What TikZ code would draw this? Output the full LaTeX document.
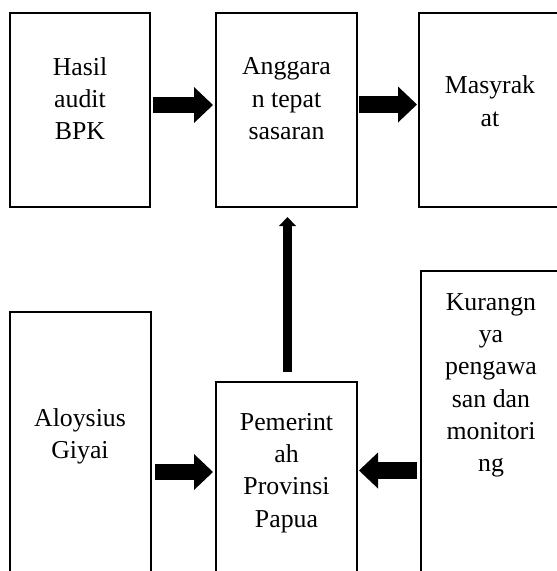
\documentclass[tikz,border=0pt]{standalone}
\usepackage{fontspec}
\setmainfont{Liberation Serif}
\usetikzlibrary{arrows.meta}
\begin{document}
\begin{tikzpicture}[x=1pt,y=-1pt,
  box/.style={draw, line width=1.8pt, inner sep=0pt, outer sep=0pt, anchor=north west},
  txt/.style={anchor=north, inner sep=0pt, align=center, font=\fontsize{25.8}{32.3}\selectfont},
  blk/.style={line width=16.5pt, -{Triangle[length=19pt, width=36pt, line width=0pt]}},
  vblk/.style={line width=9pt, -{Triangle[length=9pt, width=17pt, line width=0pt]}}]
\clip (0,0) rectangle (557,571);
% boxes
\node[box, minimum width=140pt, minimum height=194pt] (b1) at (10,13) {};
\node[box, minimum width=141pt, minimum height=194pt] (b2) at (216,13) {};
\node[box, minimum width=142pt, minimum height=194pt] (b3) at (419,13) {};
\node[box, minimum width=141pt, minimum height=300pt] (b4) at (10,312) {};
\node[box, minimum width=141pt, minimum height=250pt] (b5) at (216,382) {};
\node[box, minimum width=142pt, minimum height=350pt] (b6) at (421,271) {};
% texts (first baseline = y + 22.6)
\node[txt] (t1) at (80,52.4) {\strut Hasil\\audit\\BPK};
\node[txt] (t2) at (286.5,51.9) {\strut Anggara\\n tepat\\sasaran};
\node[txt] (t3) at (490,70.9) {\strut Masyrak\\at};
\node[txt] (t4) at (80,403.4) {\strut Aloysius\\Giyai};
\node[txt] (t5) at (286.5,407.4) {\strut Pemerint\\ah\\Provinsi\\Papua};
\node[txt] (t6) at (491,287.4) {\strut Kurangn\\ya\\pengawa\\san dan\\monitori\\ng};
% arrows
\draw[blk, shorten <=3pt, shorten >=3pt] ([yshift=5pt]b1.east) -- ([yshift=5pt]b2.west);
\draw[blk, shorten <=2pt, shorten >=2pt] ([yshift=5.5pt]b2.east) -- ([yshift=5.5pt]b3.west);
\draw[blk, shorten <=4pt, shorten >=3pt] ([yshift=-10pt]b4.east) -- ([yshift=35pt]b5.west);
\draw[blk, shorten <=4pt, shorten >=2pt] ([yshift=-24.5pt]b6.west) -- ([yshift=36.5pt]b5.east);
\draw[vblk, shorten <=10pt, shorten >=10pt] ([xshift=1pt]b5.north) -- ([xshift=1pt]b2.south);
\end{tikzpicture}
\end{document}
